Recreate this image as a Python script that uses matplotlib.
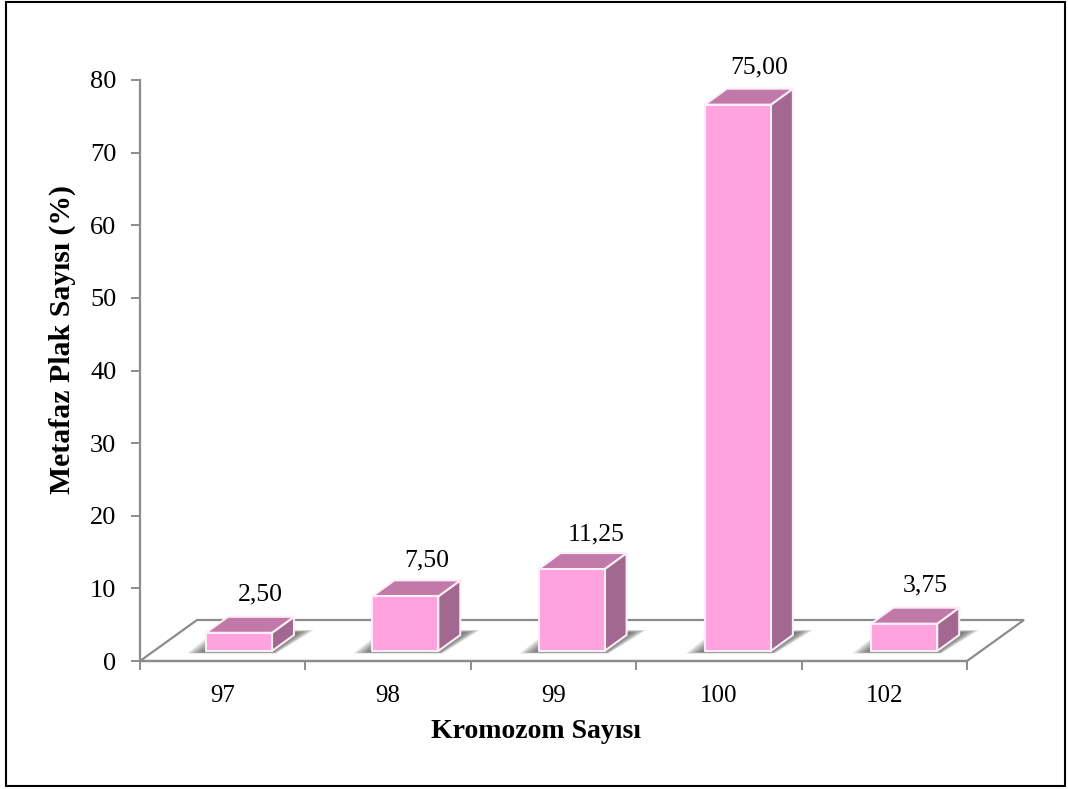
import matplotlib
matplotlib.use("Agg")
import matplotlib.pyplot as plt
from matplotlib.patches import Polygon, Rectangle

plt.rcParams["font.family"] = ["Liberation Serif", "DejaVu Serif"]

categories = ["97", "98", "99", "100", "102"]
values = [2.50, 7.50, 11.25, 75.00, 3.75]
value_labels = ["2,50", "7,50", "11,25", "75,00", "3,75"]
y_ticks = [0, 10, 20, 30, 40, 50, 60, 70, 80]

W, H = 1068, 789
fig = plt.figure(figsize=(W / 100, H / 100), dpi=100, facecolor="white")

# Outer frame of the chart area
fig.add_artist(Rectangle((6 / W, 1 - 785.5 / H), 1059 / W, 784 / H, transform=fig.transFigure,
                         fill=False, edgecolor="black", linewidth=1.5))

L, R, T, B = 140, 967, 80, 661
ax = fig.add_axes([L / W, 1 - B / H, (R - L) / W, (B - T) / H])
ax.set_xlim(0, len(categories))
ax.set_ylim(0, 80)
ax.patch.set_visible(False)

px_x = len(categories) / (R - L)   # data units per pixel, horizontal
px_y = 80 / (B - T)                # data units per pixel, vertical

AXIS = "#8c8c8c"
FRONT, TOP, SIDE = "#ffa2de", "#c079a8", "#a2688f"

for s in ("top", "right"):
    ax.spines[s].set_visible(False)
for s in ("left", "bottom"):
    ax.spines[s].set_color(AXIS)
    ax.spines[s].set_linewidth(1.6)

ax.set_yticks(y_ticks)
ax.set_xticks(range(len(categories) + 1))
ax.set_xticklabels([])
ax.tick_params(axis="y", direction="out", length=6.5, width=1.4, color=AXIS,
               labelsize=19, pad=10.5)
ax.tick_params(axis="x", direction="out", length=6.5, width=1.4, color=AXIS)

for i, c in enumerate(categories):
    ax.annotate(c, (i + 0.5, 0), xytext=(0, -25.5), textcoords="offset points",
                ha="center", va="center", fontsize=18)

# Floor of the 3D plot
fx, fy = 57 * px_x, 41 * px_y
n = len(categories)
ax.add_patch(Polygon([(0, 0), (fx, fy), (n + fx, fy), (n, 0)], closed=True, facecolor="white",
                     edgecolor=AXIS, linewidth=1.6, clip_on=False, zorder=1))

# Bars sit part-way into the floor depth, on a slightly wider pitch than the axis
bar_w = 66 * px_x
first_left = 66 * px_x
pitch = 166.3 * px_x
base = 10 * px_y
dx, dy = 22 * px_x, 16 * px_y
height_scale = 1.003

# Small horizontal and vertical shifts of the value labels, in pixels
label_shift = [(0, 0), (0, -2), (4, -3), (0, -1), (0, 0)]

for i, (v, lab) in enumerate(zip(values, value_labels)):
    x0 = first_left + i * pitch
    x1 = x0 + bar_w
    h = v * height_scale
    y1 = base + h

    # Soft floor shadow, built from stacked translucent layers
    for k in range(12):
        g = k * 1.7
        ax.add_patch(Polygon(
            [(x0 - (19 - g) * px_x, base - (2.5 - 0.1 * g) * px_y),
             (x1 + (4 - 0.2 * g) * px_x, base - (2.5 - 0.1 * g) * px_y),
             (x1 + (42 - g) * px_x, base + (21 - 0.16 * g) * px_y),
             (x0 + (10 + g) * px_x, base + (21 - 0.16 * g) * px_y)],
            closed=True, facecolor="#404040", edgecolor="none", alpha=0.10,
            clip_on=False, zorder=2))

    edge = dict(edgecolor="#fbeef6", linewidth=1.5, joinstyle="round", clip_on=False, zorder=3)
    ax.add_patch(Polygon([(x1, base), (x1 + dx, base + dy), (x1 + dx, y1 + dy), (x1, y1)],
                         closed=True, facecolor=SIDE, **edge))
    ax.add_patch(Polygon([(x0, y1), (x0 + dx, y1 + dy), (x1 + dx, y1 + dy), (x1, y1)],
                         closed=True, facecolor=TOP, **edge))
    ax.add_patch(Rectangle((x0, base), bar_w, h, facecolor=FRONT, **edge))

    sx, sy = label_shift[i]
    ax.text((x0 + x1) / 2 + (21 + sx) * px_x, y1 + dy + (22 + sy) * px_y, lab,
            ha="center", va="center", fontsize=18.5, zorder=4)

fig.text(536 / W, 1 - 732 / H, "Kromozom Sayısı", ha="center", va="center", fontsize=20,
         fontweight="bold")
fig.text(62 / W, 1 - 340 / H, "Metafaz Plak Sayısı (%)", ha="center", va="center", rotation=90,
         fontsize=21.4, fontweight="bold")

fig.savefig("out.png", dpi=100)
